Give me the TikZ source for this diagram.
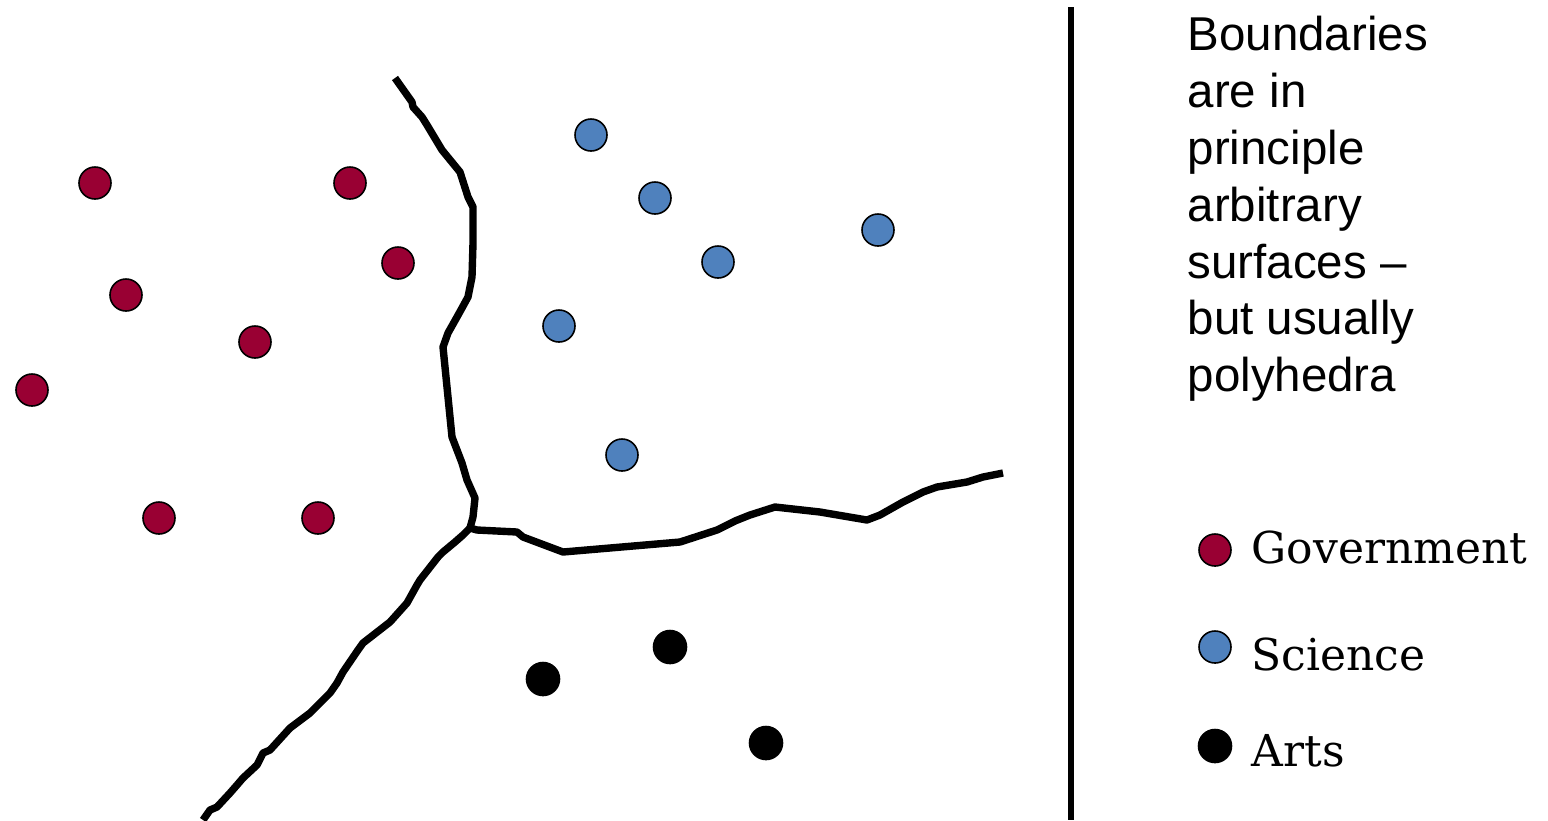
\documentclass[tikz,border=0pt]{standalone}
\usepackage{fontspec}
\setmainfont{Liberation Sans}
\newfontfamily\legfont{DejaVu Serif}
\usepackage{tikz}
\definecolor{govred}{RGB}{153,0,51}
\definecolor{sciblue}{RGB}{79,129,189}

\begin{document}
\begin{tikzpicture}[x=0.01cm, y=-0.01cm,
  dot/.style={circle, draw=black, line width=0.45pt, minimum size=0.32cm, inner sep=0pt},
  gov/.style={dot, fill=govred},
  sci/.style={dot, fill=sciblue},
  art/.style={dot, fill=black, minimum size=0.33cm},
  bnd/.style={line width=2.1pt, line join=round},
  leg/.style={anchor=base west, inner sep=0pt, font=\legfont\fontsize{12.5}{15}\selectfont}]
\useasboundingbox (0,0) rectangle (1548,820);
\foreach \x/\y [count=\i] in {95/183, 350/183, 398/263, 126/295, 255/342, 32/390, 159/518, 318/518}
  \node[gov] (gov\i) at (\x,\y) {};
\foreach \x/\y [count=\i] in {591/135, 655/198, 878/230, 718/262, 559/326, 622/455}
  \node[sci] (sci\i) at (\x,\y) {};
\foreach \x/\y [count=\i] in {670/647, 543/679, 766/743}
  \node[art] (art\i) at (\x,\y) {};
\coordinate (junc) at (470,528);
\draw[bnd] (395,78) -- (412,102) -- (413,107) -- (422,117) -- (427,125) -- (442,150) -- (460,172)
  -- (468,197) -- (473,207) -- (473,243) -- (472,277) -- (468,297) -- (462,308) -- (457,317)
  -- (448,333) -- (443,347) -- (452,437) -- (462,463) -- (467,480) -- (475,498) -- (473,517) -- (junc);
\draw[bnd] (junc) -- (477,530) -- (517,532) -- (523,537) -- (563,552) -- (680,542) -- (717,530)
  -- (735,521) -- (750,515) -- (775,507) -- (820,512) -- (867,520) -- (880,515) -- (903,502)
  -- (923,492) -- (937,487) -- (967,482) -- (983,477) -- (1003,473);
\draw[bnd] (junc) -- (463,535) -- (455,542) -- (443,552) -- (438,557) -- (420,580) -- (417,585)
  -- (407,603) -- (390,622) -- (363,643) -- (358,650) -- (343,672) -- (337,683) -- (330,693)
  -- (310,713) -- (290,728) -- (270,750) -- (263,753) -- (257,765) -- (243,778) -- (237,785)
  -- (230,793) -- (217,807) -- (210,810) -- (203,820);
\coordinate (vtop) at (1071,7);
\coordinate (vbot) at (1071,820);
\draw[line width=1.8pt] (vtop) -- (vbot);
\node[anchor=north west, inner sep=0pt, align=left, font=\fontsize{13.5}{16.2}\selectfont] (note) at (1187,15)
  {Boundaries\\are in\\principle\\arbitrary\\surfaces --\\but usually\\polyhedra};
\node[gov] (lgov) at (1215,550) {};
\node[sci] (lsci) at (1215,647) {};
\node[art] (lart) at (1215,746) {};
\node[leg] (tgov) at (1251,563) {Government};
\node[leg] (tsci) at (1251,670) {Science};
\node[leg] (tart) at (1251,766) {Arts};
\end{tikzpicture}
\end{document}
